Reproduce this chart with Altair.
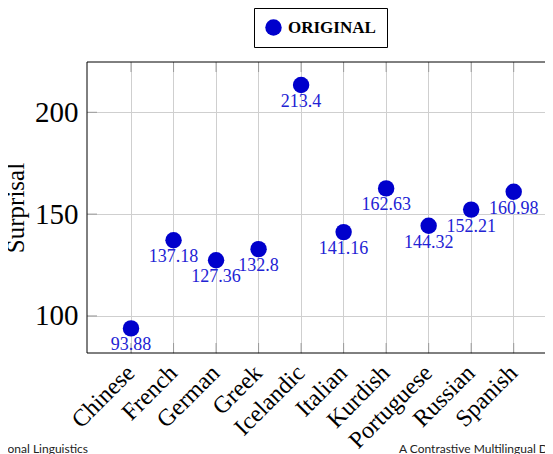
import altair as alt
import pandas as pd

languages = ["Chinese", "French", "German", "Greek", "Icelandic",
             "Italian", "Kurdish", "Portuguese", "Russian", "Spanish"]
surprisal = [93.88, 137.18, 127.36, 132.8, 213.4,
             141.16, 162.63, 144.32, 152.21, 160.98]
labels = ["93.88", "137.18", "127.36", "132.8", "213.4",
          "141.16", "162.63", "144.32", "152.21", "160.98"]
series = ["ORIGINAL"] * len(languages)
y_ticks = [100, 150, 200]

df = pd.DataFrame({"language": languages, "surprisal": surprisal,
                   "label": labels, "series": series})
yt = pd.DataFrame({"v": y_ticks})
one = pd.DataFrame({"k": [0]})

serif = "Liberation Serif"
W, H = 458, 291
TICK = "#9a9a9a"
TL = 10

xscale = alt.Scale(domain=languages, padding=0.7716, align=0.597, round=False)
yscale = alt.Scale(domain=[81.8, 224.7], nice=False, zero=False)

base = alt.Chart(df)

points = base.mark_circle(size=270, opacity=1).encode(
    x=alt.X("language:N", scale=xscale, sort=languages,
            axis=alt.Axis(title=None, labelAngle=-45, labelAlign="right",
                          labelBaseline="middle", labelFont=serif,
                          labelFontSize=24, labelColor="black",
                          labelPadding=16, ticks=False, domain=False,
                          grid=True, gridColor="#cfcfcf", gridWidth=1)),
    y=alt.Y("surprisal:Q", scale=yscale,
            axis=alt.Axis(title="Surprisal", titleFont=serif,
                          titleFontSize=25, titleFontWeight="normal",
                          titleColor="black", titlePadding=6,
                          values=y_ticks, labelFont=serif,
                          labelFontSize=29, labelColor="black",
                          labelPadding=9, ticks=False, domain=False,
                          grid=True, gridColor="#cfcfcf", gridWidth=1)),
    color=alt.Color("series:N",
                    scale=alt.Scale(domain=["ORIGINAL"], range=["#0000cc"]),
                    legend=alt.Legend(title=None, orient="none",
                                      legendX=167, legendY=-54,
                                      strokeColor="black", fillColor="white",
                                      padding=11, symbolType="circle",
                                      symbolSize=270, symbolStrokeWidth=0,
                                      labelFont=serif, labelFontSize=17,
                                      labelFontWeight="bold",
                                      labelColor="black", labelOffset=6)),
)

text = base.mark_text(baseline="top", dy=8, font=serif, fontSize=18,
                      color="#2222d4").encode(
    x=alt.X("language:N", scale=xscale, sort=languages),
    y=alt.Y("surprisal:Q", scale=yscale),
    text="label:N",
)

xt_bottom = base.mark_rule(color=TICK, strokeWidth=1).encode(
    x=alt.X("language:N", scale=xscale, sort=languages),
    y=alt.value(H - TL), y2=alt.value(H))
xt_top = base.mark_rule(color=TICK, strokeWidth=1).encode(
    x=alt.X("language:N", scale=xscale, sort=languages),
    y=alt.value(0), y2=alt.value(TL))
yt_left = alt.Chart(yt).mark_rule(color=TICK, strokeWidth=1).encode(
    y=alt.Y("v:Q", scale=yscale),
    x=alt.value(0), x2=alt.value(TL))

frame_top = alt.Chart(one).mark_rule(color="black", strokeWidth=1).encode(
    x=alt.value(0), x2=alt.value(W), y=alt.value(0))
frame_bottom = alt.Chart(one).mark_rule(color="black", strokeWidth=1).encode(
    x=alt.value(0), x2=alt.value(W), y=alt.value(H))
frame_left = alt.Chart(one).mark_rule(color="black", strokeWidth=1).encode(
    x=alt.value(0), y=alt.value(0), y2=alt.value(H))

footer_left = alt.Chart(pd.DataFrame({"t": ["Computational Linguistics"]})).mark_text(
    align="right", baseline="middle", font="Lato", fontSize=12,
    color="#222222", clip=False).encode(
    text="t:N", x=alt.value(1), y=alt.value(387))

footer_right = alt.Chart(pd.DataFrame({"t": ["A Contrastive Multilingual Dataset"]})).mark_text(
    align="left", baseline="middle", font="Lato", fontSize=12,
    color="#222222", clip=False).encode(
    text="t:N", x=alt.value(312), y=alt.value(387))

chart = alt.layer(
    xt_bottom, xt_top, yt_left, frame_top, frame_bottom, frame_left,
    points, text, footer_left, footer_right
).properties(
    width=W, height=H,
    autosize=alt.AutoSizeParams(type="none"),
    padding={"left": 79, "top": 54, "right": 0, "bottom": 101},
).configure(
    background="white"
).configure_view(
    strokeWidth=0
)

chart.save("out.html", embed_options={"renderer": "svg", "actions": False})
